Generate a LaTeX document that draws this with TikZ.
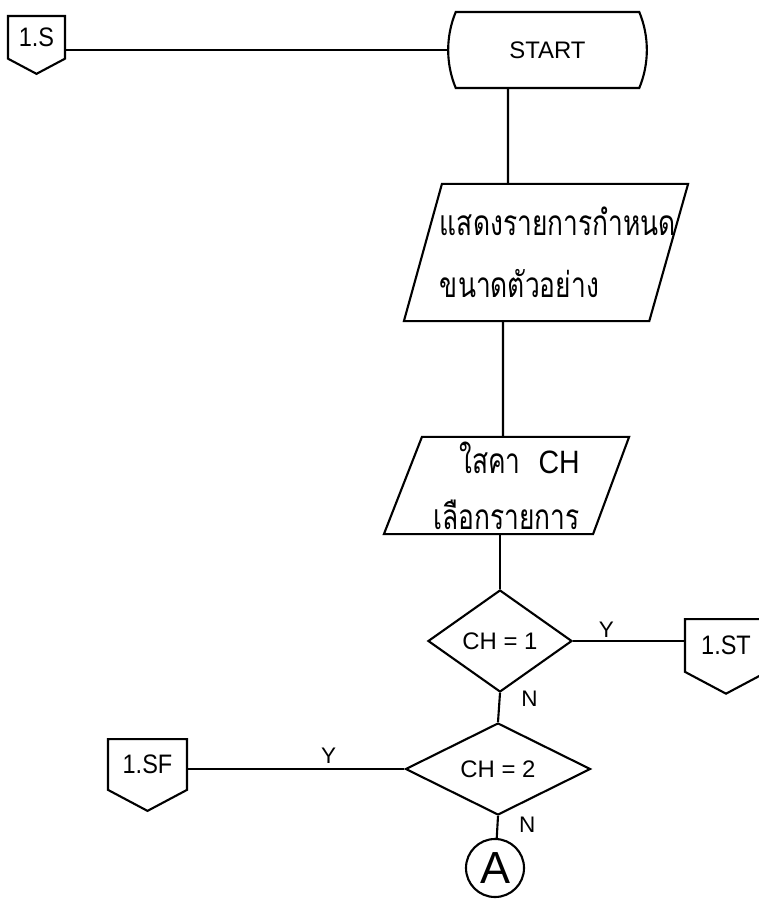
\documentclass[tikz,border=0pt]{standalone}
\usepackage{fontspec}
\setmainfont{Liberation Sans}
\newfontfamily\narrowfont{Liberation Sans}[FakeStretch=0.88]
\newfontfamily\thaifont[Script=Thai,FakeStretch=0.75]{Loma}
\usetikzlibrary{shapes.geometric,shapes.misc,shapes.symbols}

\begin{document}
\begin{tikzpicture}[x=0.025cm,y=-0.025cm,line width=1.5pt,
    terminal/.style ={rounded rectangle, rounded rectangle arc length=45, draw, minimum width=4.625cm, minimum height=1.9cm, font=\fontsize{17}{20}\selectfont},
    inout/.style ={rectangle, inner sep=0pt, font=\thaifont\fontsize{25}{44}\selectfont},
    decision/.style ={diamond, draw, inner sep=0pt, font=\fontsize{17}{20}\selectfont},
    offpage/.style ={signal, signal to=south, signal from=nowhere, signal pointer angle=124, draw, anchor=north, inner sep=0pt, font=\narrowfont\fontsize{19}{22}\selectfont},
    connector/.style ={circle, draw, minimum size=1.45cm, inner sep=0pt, font=\fontsize{32}{38}\selectfont},
    yn/.style ={font=\fontsize{16}{19}\selectfont}]
  \useasboundingbox (0,0) rectangle (758,899);
  \node[terminal] (start) at (547.5,50) {START};
  \node[offpage, minimum width=1.425cm, minimum height=1.3cm] (s) at (36.5,15) {1.S};
  \node[inout, minimum width=7.05cm, minimum height=3.375cm, text width=5.3cm, align=left] (show) at (546,252.5) {แสดงรายการกำหนด\\ขนาดตัวอย่าง};
  \node[inout, minimum width=6.075cm, minimum height=2.375cm, align=right, font=\thaifont\fontsize{25}{40}\selectfont] (input) at (506.5,485.5) {ใสคา\hspace{0.45cm}{\narrowfont\fontsize{23}{40}\selectfont CH}\\เลือกรายการ};
  \node[decision, minimum width=3.6cm, minimum height=2.55cm] (ch1) at (500,641) {CH = 1};
  \node[decision, minimum width=4.625cm, minimum height=1.975cm] (ch2) at (498,769) {CH = 2};
  \node[offpage, minimum width=2.05cm, minimum height=1.65cm] (st) at (726,618) {1.ST};
  \node[offpage, minimum width=1.975cm, minimum height=1.6cm] (sf) at (147.5,738) {1.SF};
  \node[connector] (a) at (495,868) {A};
  % parallelogram outlines
  \draw ([xshift=0.95cm]show.north west) -- (show.north east) -- ([xshift=-0.97cm]show.south east) -- (show.south west) -- cycle;
  \draw ([xshift=0.95cm]input.north west) -- (input.north east) -- ([xshift=-0.9cm]input.south east) -- (input.south west) -- cycle;
  \draw (start.west) -- (start.west -| s.east);
  \draw ([xshift=-0.9875cm]start.south) -- ([xshift=-0.95cm]show.north);
  \draw ([xshift=-1.075cm]show.south) -- ([xshift=-0.0875cm]input.north);
  \draw (input.south -| ch1.north) -- (ch1.north);
  \draw (ch1.east) -- node[yn, above, inner sep=1.5pt, pos=0.3] {Y} (ch1.east -| st.west);
  \draw (ch1.south) -- node[yn, right, pos=0.2, xshift=0.4cm] {N} (ch2.north);
  \draw (ch2.west) -- node[yn, above, pos=0.35] {Y} (ch2.west -| sf.east);
  \draw (ch2.south) -- node[yn, right, pos=0.4, xshift=0.4cm] {N} (a);
\end{tikzpicture}
\end{document}
